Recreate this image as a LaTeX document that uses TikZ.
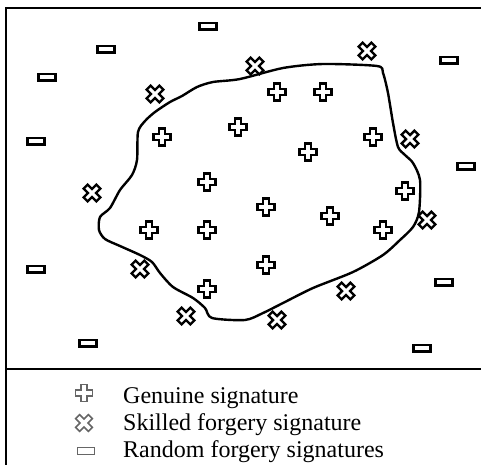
\documentclass[tikz,border=0pt]{standalone}
\usepackage{fontspec}
\setmainfont{Liberation Serif}
\tikzset{
  mk/.style={line width=2.4pt, draw=black, fill=white, line join=miter},
  lmk/.style={line width=1.5pt, draw=black!60, fill=white, line join=miter},
  markbase/.style={draw=none, minimum size=30pt, inner sep=0pt},
  genuine/.style={markbase, path picture={\draw[#1, shift={(path picture bounding box.center)}]
     (-3pt,8.5pt) -- (3pt,8.5pt) -- (3pt,3pt) -- (8.5pt,3pt) -- (8.5pt,-3pt) -- (3pt,-3pt) --
     (3pt,-8.5pt) -- (-3pt,-8.5pt) -- (-3pt,-3pt) -- (-8.5pt,-3pt) -- (-8.5pt,3pt) -- (-3pt,3pt) -- cycle;}},
  skilled/.style={markbase, path picture={\draw[#1, shift={(path picture bounding box.center)}]
     (-8.34pt,4.38pt) -- (-4.38pt,8.34pt) -- (0pt,3.96pt) -- (4.38pt,8.34pt) -- (8.34pt,4.38pt) --
     (3.96pt,0pt) -- (8.34pt,-4.38pt) -- (4.38pt,-8.34pt) -- (0pt,-3.96pt) -- (-4.38pt,-8.34pt) --
     (-8.34pt,-4.38pt) -- (-3.96pt,0pt) -- cycle;}},
  random/.style={markbase, path picture={\draw[#1, shift={(path picture bounding box.center)}]
     (-8.5pt,-3.3pt) rectangle (8.5pt,3.3pt);}},
  genuine/.default=mk, skilled/.default=mk, random/.default=mk,
  frameline/.style={line width=2.8pt, line cap=rect},
  blob/.style={line width=2.4pt, line join=round},
  legtext/.style={anchor=base west, inner sep=0pt, font=\fontsize{24}{28}\selectfont}
}
\begin{document}
\begin{tikzpicture}[x=1pt,y=-1pt]
\useasboundingbox (0,0) rectangle (481,464);
% frame
\draw[frameline] (6,470) -- (6,8) -- (490,8);
\draw[frameline] (6,369) -- (490,369);
% boundary of genuine region
\draw[blob] plot[smooth cycle, tension=0.45] coordinates {
 (240,79) (283,68) (323,64) (377,66) (383,73) (388,93) (393,123) (398,147)
 (405,155) (413,163) (420,180) (419,212) (413,227) (400,240) (383,255)
 (353,272) (313,288) (283,303) (263,313) (245,320) (212,318) (205,308)
 (193,298) (173,287) (160,273) (152,262) (140,255) (120,246) (105,239)
 (99,230) (100,217) (110,208) (120,190) (132,175) (137,160) (138,132)
 (145,121) (155,112) (170,102) (182,96) (197,87) (213,82)};
% random forgeries
\node[random] (r1) at (208,26) {};
\node[random] (r2) at (106,49) {};
\node[random] (r3) at (47,77) {};
\node[random] (r4) at (449,60) {};
\node[random] (r5) at (36,141) {};
\node[random] (r6) at (466,166) {};
\node[random] (r7) at (36,269) {};
\node[random] (r8) at (444,282) {};
\node[random] (r9) at (88,343) {};
\node[random] (r10) at (422,348) {};
% skilled forgeries
\node[skilled] (s1) at (155,94) {};
\node[skilled] (s2) at (92,193) {};
\node[skilled] (s3) at (255,66) {};
\node[skilled] (s4) at (367,51) {};
\node[skilled] (s5) at (410,139) {};
\node[skilled] (s6) at (427,220) {};
\node[skilled] (s7) at (140,269) {};
\node[skilled] (s8) at (186,316) {};
\node[skilled] (s9) at (346,291) {};
\node[skilled] (s10) at (277,320) {};
% genuine
\node[genuine] (g1) at (277,92) {};
\node[genuine] (g2) at (323,92) {};
\node[genuine] (g3) at (238,127) {};
\node[genuine] (g4) at (162,137) {};
\node[genuine] (g5) at (373,137) {};
\node[genuine] (g6) at (308,152) {};
\node[genuine] (g7) at (207,182) {};
\node[genuine] (g8) at (405,191) {};
\node[genuine] (g9) at (266,207) {};
\node[genuine] (g10) at (330,216) {};
\node[genuine] (g11) at (149,230) {};
\node[genuine] (g12) at (207,230) {};
\node[genuine] (g13) at (383,230) {};
\node[genuine] (g14) at (266,265) {};
\node[genuine] (g15) at (207,289) {};
% legend
\node[genuine=lmk] (lg) at (84,393) {};
\node[skilled=lmk] (ls) at (84,423) {};
\node[random=lmk] (lr) at (86,451) {};
\node[legtext] (tg) at (123,403) {Genuine signature};
\node[legtext] (ts) at (123,430) {Skilled forgery signature};
\node[legtext] (tr) at (123,457) {Random forgery signatures};
\end{tikzpicture}
\end{document}
